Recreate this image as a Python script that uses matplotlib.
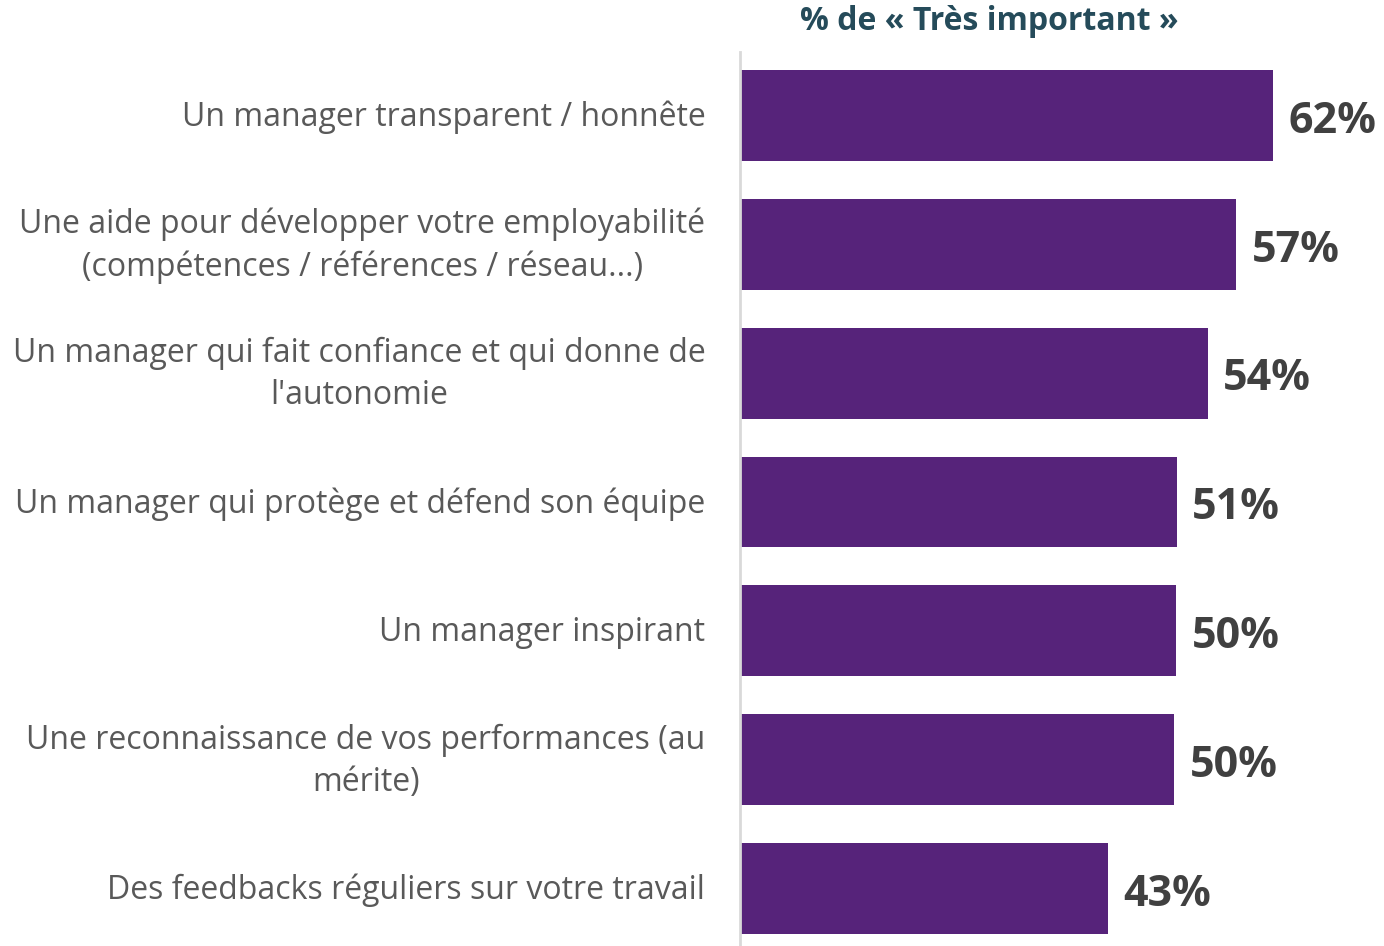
import matplotlib.pyplot as plt
import matplotlib.transforms as mtransforms

plt.rcParams['font.family'] = ['Open Sans', 'DejaVu Sans']

# données
categories = [
    "Un manager transparent / honnête",
    "Une aide pour développer votre employabilité\n(compétences / références / réseau...)",
    "Un manager qui fait confiance et qui donne de\nl'autonomie",
    "Un manager qui protège et défend son équipe",
    "Un manager inspirant",
    "Une reconnaissance de vos performances (au\nmérite)",
    "Des feedbacks réguliers sur votre travail",
]
values = [62.0, 57.7, 54.4, 50.8, 50.7, 50.5, 42.8]
value_labels = ["62%", "57%", "54%", "51%", "50%", "50%", "43%"]
title = "% de « Très important »"

fig = plt.figure(figsize=(13.84, 9.46), dpi=100)
ax = fig.add_axes([740 / 1384, 0, 1 - 740 / 1384, (946 - 52) / 946])

ypos = list(range(len(categories)))
ax.barh(ypos, values, height=0.705, color='#56237A', zorder=2)

for y, v, lab in zip(ypos, values, value_labels):
    ax.text(v + 1.8, y + 0.045, lab, va='center', ha='left', fontsize=31,
            fontweight='bold', color='#404040')

ax.set_xlim(0, 74.9)
ax.set_ylim(6.446, -0.493)
ax.set_yticks(ypos)
ax.set_yticklabels(categories, fontsize=23, color='#595959',
                   multialignment='center', linespacing=1.35)
ax.tick_params(axis='y', length=0, pad=25)
ax.set_xticks([])

# remonter un peu les libellés
for t in ax.get_yticklabels():
    dy = 7 if '\n' in t.get_text() else 2
    t.set_transform(t.get_transform() + mtransforms.ScaledTranslation(0, dy / 100, fig.dpi_scale_trans))

for s in ['top', 'right', 'bottom']:
    ax.spines[s].set_visible(False)
ax.spines['left'].set_color('#D9D9D9')
ax.spines['left'].set_linewidth(2)

fig.text(989 / 1384, 1 - 22 / 946, title, ha='center', va='center', fontsize=23,
         fontweight='bold', color='#254B5A')

fig.savefig('out.png', dpi=100)
